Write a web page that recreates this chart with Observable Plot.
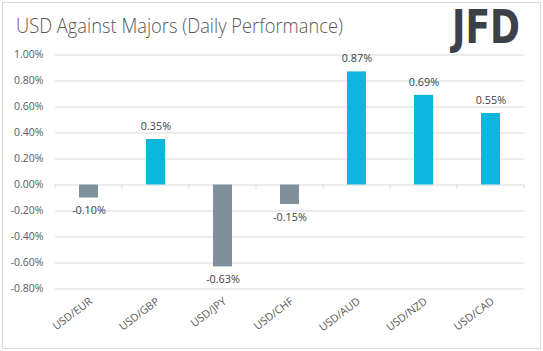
<!DOCTYPE html>
<html><head><meta charset="utf-8">
<script src="https://cdn.jsdelivr.net/npm/d3@7"></script>
<script src="https://cdn.jsdelivr.net/npm/@observablehq/plot@0.6"></script>
<style>
html,body{margin:0;padding:0;background:#fff;}
#wrap{position:relative;width:543px;height:351px;overflow:hidden;background:#fff;}
#wrap svg{position:absolute;left:0;top:0;}
</style></head><body><div id="wrap"></div>
<script>
const pairs = ["USD/EUR","USD/GBP","USD/JPY","USD/CHF","USD/AUD","USD/NZD","USD/CAD"];
const changes = [-0.10, 0.35, -0.63, -0.15, 0.87, 0.69, 0.55];
const yTicks = [-0.8,-0.6,-0.4,-0.2,0,0.2,0.4,0.6,0.8,1.0];
const title = "USD Against Majors (Daily Performance)";
const brand = "JFD";

const data = pairs.map((p,i)=>({pair:p, value:changes[i], dir: changes[i] >= 0 ? "up" : "down"}));
const fmt = v => v.toFixed(2) + "%";

// small tick marks on the zero line at category boundaries
const boundaryTicks = (index, scales) => {
  const x = scales.x, y = scales.y;
  const step = typeof x.step === "function" ? x.step() : scales.scales.x.step;
  const bw = typeof x.bandwidth === "function" ? x.bandwidth() : scales.scales.x.bandwidth;
  const y0 = y(0);
  const xs = pairs.map(p => x(p) + bw/2 - step/2);
  xs.push(x(pairs[pairs.length-1]) + bw/2 + step/2);
  const g = d3.create("svg:g").attr("stroke","#d9d9d9").attr("stroke-width",1);
  for (const xv of xs) g.append("line").attr("x1",xv).attr("x2",xv).attr("y1",y0).attr("y2",y0+4);
  return g.node();
};

const chart = Plot.plot({
  width: 543,
  height: 351,
  marginLeft: 55,
  marginRight: 19,
  marginTop: 54.5,
  marginBottom: 62.5,
  style: {fontFamily: "'Open Sans', sans-serif", fontSize: "10.5px", color: "#595959", background: "transparent"},
  x: {domain: pairs, paddingInner: 0.71, paddingOuter: 0.355, label: null, axis: null},
  y: {domain: [-0.8, 1.0], label: null, axis: null},
  color: {domain: ["up","down"], range: ["#0cb6dd", "#7f929c"]},
  marks: [
    Plot.gridY(yTicks, {stroke: "#d9d9d9", strokeOpacity: 1}),
    Plot.axisY(yTicks, {tickSize: 0, tickPadding: 12, tickFormat: fmt, fill: "#595959", label: null}),
    Plot.axisX({tickSize: 0, tickRotate: -37, tickPadding: 11, dx: 2, fill: "#595959", fontSize: 10.8, label: null}),
    boundaryTicks,
    Plot.barY(data, {x: "pair", y: "value", fill: "dir"}),
    Plot.text(data.filter(d => d.value >= 0), {x: "pair", y: "value", text: d => fmt(d.value), dy: -13, fill: "#404040", fontSize: 10.8}),
    Plot.text(data.filter(d => d.value < 0), {x: "pair", y: "value", text: d => fmt(d.value), dy: 13, fill: "#404040", fontSize: 10.8})
  ]
});
const wrap = document.getElementById("wrap");
wrap.appendChild(chart);

const over = d3.create("svg").attr("width",543).attr("height",351).attr("viewBox","0 0 543 351");
over.append("rect").attr("x",2.5).attr("y",2.5).attr("width",538).attr("height",346)
  .attr("fill","none").attr("stroke","#d9d9d9");
over.append("text").attr("x",16).attr("y",33).text(title)
  .attr("font-family","'Open Sans', sans-serif").attr("font-weight",300).attr("font-size",21).attr("fill","#595959")
  .attr("textLength",327).attr("lengthAdjust","spacingAndGlyphs");
over.append("text").attr("x",452).attr("y",43).text(brand)
  .attr("font-family","'DejaVu Sans', sans-serif").attr("font-weight","bold").attr("font-size",46)
  .attr("fill","#3b4049").attr("textLength",68).attr("lengthAdjust","spacingAndGlyphs");
wrap.appendChild(over.node());
</script></body></html>
